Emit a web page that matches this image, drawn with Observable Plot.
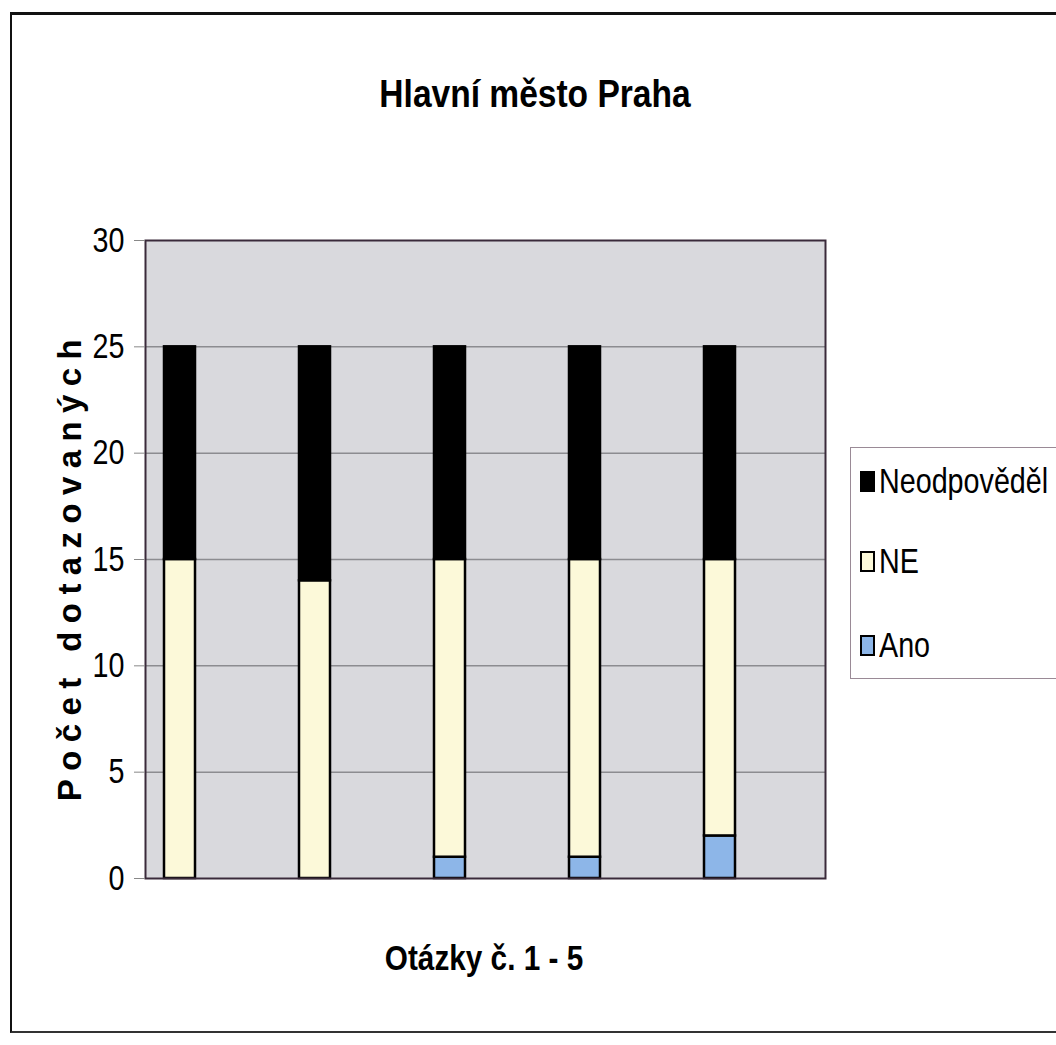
<!DOCTYPE html>
<html>
<head>
<meta charset="utf-8">
<script src="https://cdn.jsdelivr.net/npm/d3@7"></script>
<script src="https://cdn.jsdelivr.net/npm/@observablehq/plot@0.6"></script>
<style>
  html, body { margin: 0; padding: 0; background: #ffffff; }
  #wrap { position: relative; width: 1056px; height: 1045px; overflow: hidden; background: #ffffff;
          font-family: "Liberation Sans", Arial, sans-serif; }
  #frame { position: absolute; left: 10px; top: 12px; width: 1100px; height: 1016px;
           border-left: 2px solid #111; border-top: 3px solid #111; border-bottom: 2px solid #333; }
  #title { position: absolute; left: 535px; top: 72px; transform: translateX(-50%) scaleX(0.86);
           font-weight: bold; font-size: 39px; line-height: 44px; color: #000; white-space: nowrap; }
  #ylabel { position: absolute; left: 70px; top: 566px; transform: translate(-50%, -50%) rotate(-90deg);
            white-space: nowrap; font-family: "Liberation Sans", Arial, sans-serif; font-weight: bold;
            font-size: 33px; letter-spacing: 8.4px; color: #000; }
  #xlabel { position: absolute; left: 484px; top: 937px; transform: translateX(-50%) scaleX(0.85);
            font-weight: bold; font-size: 35px; line-height: 42px; color: #000; white-space: nowrap; }
  #legend { position: absolute; left: 850px; top: 447px; width: 230px; height: 230px;
            border: 1px solid #9a8a96; background: #ffffff; }
  .item { position: absolute; left: 9px; height: 40px; color: #000; display: flex; align-items: center; white-space: nowrap; }
  .sw { width: 11px; height: 17px; border: 2px solid #000; margin-right: 4px; box-sizing: content-box; flex: none; }
  .lt { font-size: 35px; line-height: 40px; display: inline-block; transform: scaleX(0.82); transform-origin: left center; }
  #chart { position: absolute; left: 0; top: 0; }
</style>
</head>
<body>
<div id="wrap">
  <div id="frame"></div>
  <div id="chart"></div>
  <div id="title">Hlavní město Praha</div>
  <div id="ylabel">Počet dotazovaných</div>
  <div id="xlabel">Otázky č. 1 - 5</div>
  <div id="legend"></div>
</div>
<script>
// ---- data ----
const questions = ["1", "2", "3", "4", "5"];
const seriesNames = ["Ano", "NE", "Neodpověděl"];
const ano = [0, 0, 1, 1, 2];
const ne = [15, 14, 14, 14, 13];
const neodpovedel = [10, 11, 10, 10, 10];
const seriesColors = ["#8db6e8", "#fcf9d9", "#000000"];
const yTicks = [0, 5, 10, 15, 20, 25, 30];
const gridValues = [5, 10, 15, 20, 25];

const valuesBySeries = [ano, ne, neodpovedel];
const table = [];
seriesNames.forEach((s, si) => {
  questions.forEach((q, qi) => {
    table.push({question: q, series: s, value: valuesBySeries[si][qi]});
  });
});

const chart = Plot.plot({
  width: 1056,
  height: 1045,
  marginLeft: 145,
  marginRight: 231,
  marginTop: 240,
  marginBottom: 167,
  style: {
    fontFamily: '"Liberation Sans", Arial, sans-serif',
    background: "transparent",
    color: "#000"
  },
  x: {domain: questions, range: [110, 788], padding: 0, axis: null},
  y: {domain: [0, 30]},
  color: {domain: seriesNames, range: seriesColors},
  marks: [
    Plot.frame({fill: "#d9d9dd", stroke: "none"}),
    Plot.ruleY(gridValues, {stroke: "#8c8c90", strokeWidth: 1.5}),
    Plot.barY(table, {
      x: "question", y: "value", fill: "series",
      order: seriesNames,
      insetLeft: 52, insetRight: 52,
      stroke: "#000", strokeWidth: 2.5
    }),
    Plot.frame({stroke: "#3a2a3a", strokeWidth: 2}),
    Plot.axisY({
      ticks: yTicks, tickSize: 11, tickPadding: 10, fontSize: 35,
      label: null, stroke: "#888"
    })
  ]
});
// narrow the tick label glyphs (Arial Narrow look), keeping their right edge in place
d3.select(chart).selectAll('g[aria-label="y-axis tick label"] text').each(function() {
  const t = this.getAttribute("transform") || "";
  this.setAttribute("transform", t + " scale(0.82,1)");
});
document.getElementById("chart").appendChild(chart);

// legend
const legend = document.getElementById("legend");
const order = ["Neodpověděl", "NE", "Ano"];
const centers = [33, 113, 197];
order.forEach((name, i) => {
  const item = document.createElement("div");
  item.className = "item";
  item.style.top = (centers[i] - 20) + "px";
  const sw = document.createElement("div");
  sw.className = "sw";
  sw.style.background = seriesColors[seriesNames.indexOf(name)];
  const t = document.createElement("span");
  t.className = "lt";
  t.textContent = name;
  item.appendChild(sw);
  item.appendChild(t);
  legend.appendChild(item);
});
</script>
</body>
</html>
